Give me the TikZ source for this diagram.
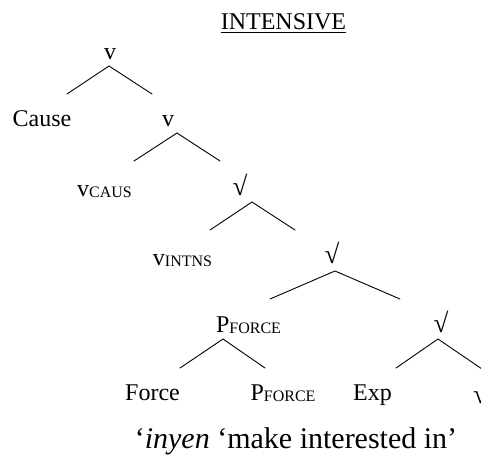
\documentclass[tikz,border=0pt]{standalone}
\usepackage{fontspec}
\setmainfont{Liberation Serif}
% small-capital subscript for category labels
\newcommand{\catsub}[1]{\raisebox{-1.5pt}{\fontsize{16}{16}\selectfont #1}}
\begin{document}
\begin{tikzpicture}[x=1pt,y=-1pt,
  lbl/.style={anchor=base,inner sep=0pt,font=\fontsize{24}{24}\selectfont},
  root/.style={anchor=south,inner sep=0pt,font=\fontsize{27}{27}\selectfont},
  branch/.style={line width=0.9pt,line cap=round}]
\useasboundingbox (0,0) rectangle (481,455);
\clip (0,0) rectangle (481,455);

% heading
\node[lbl] (title) at (283.5,29) {INTENSIVE};
\draw[line width=1.1pt] ([yshift=-3.5pt]title.base west) -- ([yshift=-3.5pt]title.base east);

% labels
\node[lbl] (v1) at (110,59) {v};
\node[lbl] (cause) at (42,126) {Cause};
\node[lbl] (v2) at (168,126) {v};
\node[lbl] (vcaus) at (104.5,196) {v\catsub{CAUS}};
\node[root] (r1) at (240,196) {√};
\node[lbl] (vintns) at (182.5,265) {v\catsub{INTNS}};
\node[root] (r2) at (332,264) {√};
\node[lbl] (pf1) at (248.5,332) {P\catsub{FORCE}};
\node[root] (r3) at (441,333) {√};
\node[lbl] (force) at (152.5,400) {Force};
\node[lbl] (pf2) at (283,400) {P\catsub{FORCE}};
\node[lbl] (exp) at (372.5,400) {Exp};
\node[root,anchor=south west] (r4) at (473,404) {√};
\node[anchor=base,inner sep=0pt,font=\fontsize{30}{30}\selectfont] (gloss) at (296,448)
  {‘\textit{inyen} ‘make interested in’};

% branch points
\coordinate (a1) at (109,66);  \coordinate (l1) at (67,94);   \coordinate (e1) at (152,94);
\coordinate (a2) at (177,133); \coordinate (l2) at (134,161); \coordinate (e2) at (220,161);
\coordinate (a3) at (252,202); \coordinate (l3) at (210,230); \coordinate (e3) at (295,230);
\coordinate (a4) at (335,271); \coordinate (l4) at (270,299); \coordinate (e4) at (400,299);
\coordinate (a5) at (223,339); \coordinate (l5) at (180,368); \coordinate (e5) at (265,368);
\coordinate (a6) at (438,339); \coordinate (l6) at (396,368); \coordinate (e6) at (482,369);

\foreach \i in {1,...,6}{
  \draw[branch] (l\i) -- (a\i) -- (e\i);
}
\end{tikzpicture}
\end{document}
